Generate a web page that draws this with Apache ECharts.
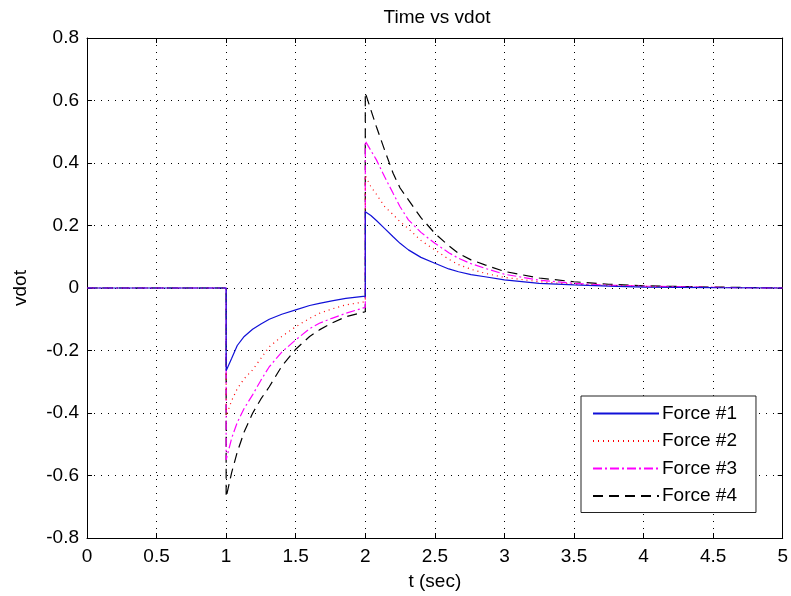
<!DOCTYPE html>
<html>
<head>
<meta charset="utf-8">
<script src="https://cdn.jsdelivr.net/npm/echarts@6/dist/echarts.min.js"></script>
<style>
  html, body { margin: 0; padding: 0; background: #fff; }
  #main { width: 791px; height: 596px; }
</style>
</head>
<body>
<div id="main"></div>
<script>
// sample times (duplicates at 1 and 2 are the step jumps)
const timeSec = [0, 1, 1, 1.04, 1.08, 1.13, 1.19, 1.25, 1.31, 1.4, 1.5, 1.6, 1.67, 1.76, 1.86, 2,
  2, 2.04, 2.08, 2.14, 2.2, 2.25, 2.31, 2.4, 2.5, 2.6, 2.67, 2.76, 2.86, 3, 3.25, 3.5, 3.75, 4, 4.5, 5];

const force1 = [0, 0, -0.265, -0.225, -0.184, -0.155, -0.132, -0.115, -0.100, -0.084, -0.070, -0.056, -0.049, -0.041, -0.033, -0.026,
  0.244, 0.232, 0.216, 0.19, 0.164, 0.143, 0.122, 0.098, 0.079, 0.061, 0.052, 0.043, 0.036, 0.026, 0.015, 0.010, 0.006, 0.003, 0.001, 0];
const force2 = [0, 0, -0.41, -0.36, -0.322, -0.29, -0.262, -0.225, -0.188, -0.155, -0.124, -0.097, -0.081, -0.067, -0.054, -0.044,
  0.36, 0.324, 0.30, 0.26, 0.235, 0.212, 0.19, 0.152, 0.122, 0.092, 0.075, 0.06, 0.047, 0.034, 0.02, 0.012, 0.008, 0.005, 0.002, 0];
const force3 = [0, 0, -0.55, -0.48, -0.43, -0.385, -0.342, -0.295, -0.252, -0.205, -0.166, -0.13, -0.113, -0.097, -0.081, -0.062,
  0.47, 0.44, 0.41, 0.355, 0.303, 0.26, 0.218, 0.178, 0.143, 0.113, 0.095, 0.078, 0.063, 0.044, 0.025, 0.015, 0.009, 0.006, 0.002, 0];
const force4 = [0, 0, -0.67, -0.59, -0.525, -0.46, -0.401, -0.355, -0.316, -0.25, -0.196, -0.155, -0.134, -0.112, -0.092, -0.076,
  0.625, 0.57, 0.516, 0.44, 0.367, 0.32, 0.282, 0.225, 0.175, 0.135, 0.111, 0.09, 0.074, 0.053, 0.032, 0.02, 0.012, 0.007, 0.003, 0];

const seriesNames = ["Force #1", "Force #2", "Force #3", "Force #4"];
const xTicks = [0, 0.5, 1, 1.5, 2, 2.5, 3, 3.5, 4, 4.5, 5];
const yTicks = [-0.8, -0.6, -0.4, -0.2, 0, 0.2, 0.4, 0.6, 0.8];

const chart = echarts.init(document.getElementById("main"));
const font = "Liberation Sans, Arial, sans-serif";

function pairs(vals) {
  return timeSec.map((t, i) => [t, vals[i]]);
}

const styles = [
  { color: "#1010d8", type: "solid" },
  { color: "#ff0000", type: [1, 4] },
  { color: "#ff00ff", type: [9, 3, 2, 3] },
  { color: "#000000", type: [10, 6] },
];

const baseAxisLine = { show: true, onZero: false, lineStyle: { color: "#000", width: 1 } };
const tickIn = { show: true, inside: true, length: 5, lineStyle: { color: "#000" } };
const gridDots = { show: true, lineStyle: { color: "#000", width: 1, type: [1, 6] } };

const option = {
  animation: false,
  backgroundColor: "#fff",
  title: {
    text: "Time vs vdot",
    left: 432, top: 3, textAlign: "center",
    textStyle: { fontFamily: font, fontSize: 19, fontWeight: "normal", color: "#000" },
  },
  grid: { left: 87, top: 38, right: 7, bottom: 58 },
  legend: {
    orient: "vertical",
    left: 581, top: 396,
    padding: [8, 19, 7, 11],
    itemWidth: 66, itemHeight: 14, itemGap: 8.5,
    borderColor: "#222", borderWidth: 1, backgroundColor: "#fff",
    itemStyle: { opacity: 0 },
    textStyle: { fontFamily: font, fontSize: 19, color: "#000", padding: [0, 0, 0, -2] },
    data: seriesNames,
  },
  xAxis: [
    {
      type: "value", min: 0, max: 5, interval: 0.5,
      name: "t (sec)", nameLocation: "middle", nameGap: 34,
      nameTextStyle: { fontFamily: font, fontSize: 19, color: "#000" },
      axisLine: baseAxisLine, axisTick: tickIn, splitLine: gridDots,
      axisLabel: { fontFamily: font, fontSize: 19, color: "#000", margin: 9,
        formatter: v => xTicks.includes(v) ? String(v) : "" },
    },
    {
      type: "value", min: 0, max: 5, interval: 0.5, position: "top",
      axisLine: baseAxisLine, axisTick: tickIn, splitLine: { show: false }, axisLabel: { show: false },
    },
  ],
  yAxis: [
    {
      type: "value", min: -0.8, max: 0.8, interval: 0.2,
      name: "vdot", nameLocation: "middle", nameGap: 57, nameRotate: 90,
      nameTextStyle: { fontFamily: font, fontSize: 19, color: "#000" },
      axisLine: baseAxisLine, axisTick: tickIn, splitLine: gridDots,
      axisLabel: { fontFamily: font, fontSize: 19, color: "#000", margin: 8,
        formatter: v => {
          const r = Math.round(v * 10) / 10;
          return yTicks.includes(r) ? String(r) : "";
        } },
    },
    {
      type: "value", min: -0.8, max: 0.8, interval: 0.2, position: "right",
      axisLine: baseAxisLine, axisTick: tickIn, splitLine: { show: false }, axisLabel: { show: false },
    },
  ],
  series: [force1, force2, force3, force4].map((vals, i) => ({
    name: seriesNames[i],
    type: "line",
    xAxisIndex: 0, yAxisIndex: 0,
    data: pairs(vals),
    symbol: "none",
    color: styles[i].color,
    lineStyle: { color: styles[i].color, width: 1.2, type: styles[i].type },
    z: 4 - i,
  })),
};

chart.setOption(option);
</script>
</body>
</html>
